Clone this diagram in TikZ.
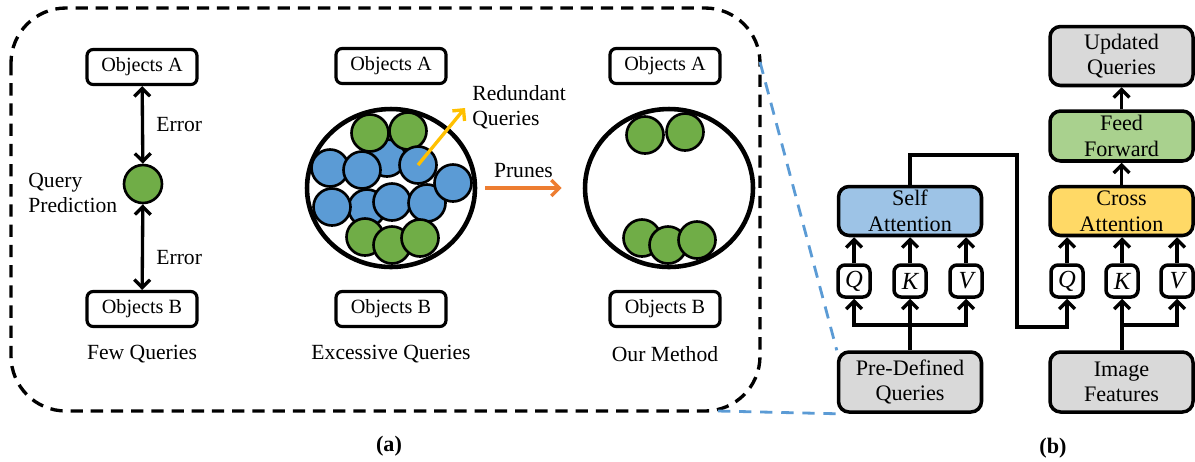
\documentclass[tikz,border=0pt]{standalone}
\usepackage{fontspec}
\setmainfont{Liberation Serif}
\usetikzlibrary{arrows.meta,positioning,shapes.geometric}
\definecolor{qgreen}{HTML}{70AD47}
\definecolor{qblue}{HTML}{5B9BD5}
\definecolor{prunecol}{HTML}{ED7D31}
\definecolor{redcol}{HTML}{FFC000}
\definecolor{selfcol}{HTML}{9DC3E6}
\definecolor{crosscol}{HTML}{FFD966}
\definecolor{ffcol}{HTML}{A9D18E}
\definecolor{greycol}{HTML}{D9D9D9}
\begin{document}
\begin{tikzpicture}[x=0.02cm, y=-0.02cm,
  objbox/.style={draw=black, line width=1.8pt, rounded corners=3.5pt, minimum width=2.2cm, minimum height=0.7cm, inner sep=0pt, font=\fontsize{11.5}{13}\selectfont},
  query/.style={shape=circle, draw=black, line width=1.5pt, minimum size=0.74cm, inner sep=0pt},
  pool/.style={shape=ellipse, draw=black, line width=2.6pt, minimum width=3.36cm, minimum height=3.16cm, inner sep=0pt},
  caption/.style={inner sep=0pt, font=\fontsize{12.3}{14.5}\selectfont},
  block/.style={draw=black, line width=2pt, rounded corners=6pt, minimum width=2.86cm, inner sep=0pt, align=center, font=\fontsize{12.6}{14.6}\selectfont},
  qkv/.style={draw=black, line width=2pt, rounded corners=4pt, minimum size=0.64cm, inner sep=0pt, font=\fontsize{14}{14}\selectfont\itshape},
  arr/.style={line width=1.9pt, -{Straight Barb[length=4.5pt,width=9pt]}},
  dbl/.style={line width=1.9pt, {Straight Barb[length=4.5pt,width=9pt]}-{Straight Barb[length=4.5pt,width=9pt]}},
  zoomline/.style={draw=qblue, line width=1.6pt, dash pattern=on 7pt off 5pt},
]
\useasboundingbox (0,0) rectangle (1195,461);

% frame of (a)
\draw[line width=1.9pt, dash pattern=on 7pt off 4.5pt, rounded corners=1.1cm] (11,8) rectangle (760,411);

% few queries
\node[objbox] (oa1) at (142,67) {Objects A};
\node[query, fill=qgreen, minimum size=0.76cm] (qp) at (143,184) {};
\node[objbox] (ob1) at (142,309) {Objects B};
\node[caption, align=left, anchor=west] (qpt) at (28,193) {Query\\Prediction};
\node[caption] (fq) at (142,354) {Few Queries};

% excessive queries
\node[objbox] (oa2) at (391,66) {Objects A};
\node[pool] (pool2) at (391,188) {};
\foreach \n/\x/\y/\c in {b1/387/158/qblue, b2/367/208/qblue, g1/370/133/qgreen, g2/408/131/qgreen,
    b3/330/168/qblue, b4/362/170/qblue, b5/418/165/qblue, b6/332/207/qblue, b7/392/202/qblue,
    b8/427/203/qblue, b9/453/183/qblue, g3/365/237/qgreen, g4/392/245/qgreen, g5/420/238/qgreen}
  \node[query, fill=\c] (\n) at (\x,\y) {};
\node[objbox] (ob2) at (391,309) {Objects B};
\node[caption] (eq) at (391,354) {Excessive Queries};
\node[caption, align=left, anchor=west] (rqt) at (472,107) {Redundant\\Queries};
\coordinate (rq) at (465,108);

% our method
\node[objbox] (oa3) at (665,66) {Objects A};
\node[pool] (pool3) at (669,188) {};
\foreach \n/\x/\y in {h1/645/135, h2/685/132, h3/642/238, h4/668/245, h5/697/240}
  \node[query, fill=qgreen] (\n) at (\x,\y) {};
\node[objbox] (ob3) at (665,309) {Objects B};
\node[caption] (om) at (665,354) {Our Method};

% decoder layer
\node[block, fill=greycol, minimum height=1.18cm] (uq) at (1121.5,56) {Updated\\Queries};
\node[block, fill=ffcol, minimum height=1.0cm] (ff) at (1121.5,136) {Feed\\Forward};
\node[block, fill=crosscol, minimum height=0.98cm] (ca) at (1121.5,211) {Cross\\Attention};
\node[block, fill=selfcol, minimum height=0.98cm] (sa) at (910,211) {Self\\Attention};
\node[qkv] (sq) at (854,281) {Q};
\node[qkv] (sk) at (910,281) {K};
\node[qkv] (sv) at (966,281) {V};
\node[qkv] (cq) at (1067,281) {Q};
\node[qkv] (ck) at (1122,281) {K};
\node[qkv] (cv) at (1177,281) {V};
\node[block, fill=greycol, minimum height=1.2cm] (pdq) at (910,382) {Pre-Defined\\Queries};
\node[block, fill=greycol, minimum height=1.2cm] (imf) at (1121.5,382) {Image\\Features};
\coordinate (pj) at (910,325);
\coordinate (ij) at (1122,325);
\coordinate (t1) at (1017,155);
\coordinate (t2) at (1017,327);

% captions
\node[font=\bfseries\fontsize{12.6}{14}\selectfont] (la) at (389,446) {(a)};
\node[font=\bfseries\fontsize{12.6}{14}\selectfont] (lb) at (1053,448) {(b)};

% arrows
\path[dbl] (oa1) edge node[caption, right=7pt] {Error} (qp);
\path[dbl] (qp) edge node[caption, pos=0.62, right=7pt] {Error} (ob1);
\draw[arr, color=redcol] (b5.center) -- (rq);
\path[arr, color=prunecol] ([xshift=4.5pt]pool2.east) edge node[caption, above=5pt, text=black] {Prunes} ([xshift=-12pt]pool3.west);

\draw[line width=1.9pt] (pdq.north) -- (pj);
\draw[arr] (pj) -| (sq.south);
\draw[arr] (pj) -| (sv.south);
\draw[arr] (pj) -- (sk.south);
\draw[arr] (imf.north -| ck.south) -- (ck.south);
\draw[arr] (ij) -| (cv.south);
\foreach \k in {sq,sk,sv} \draw[arr] (\k.north) -- (\k.north |- sa.south);
\foreach \k in {cq,ck,cv} \draw[arr] (\k.north) -- (\k.north |- ca.south);
\draw[arr] (sa.north) |- (t1) -- (t2) -| (cq.south);
\draw[arr] (ca) -- (ff);
\draw[arr] (ff) -- (uq);

% zoom lines
\coordinate (zt) at (760,62);
\coordinate (zb) at (718,411);
\draw[zoomline] (zt) -- (pdq.north west);
\draw[zoomline] (zb) -- (pdq.south west);
\end{tikzpicture}
\end{document}
